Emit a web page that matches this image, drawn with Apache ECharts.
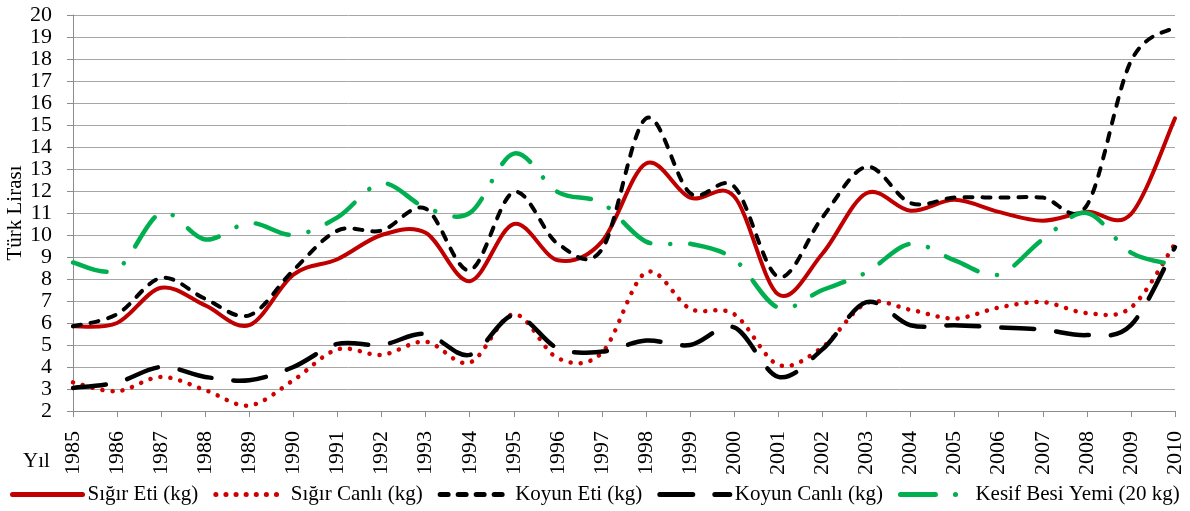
<!DOCTYPE html>
<html>
<head>
<meta charset="utf-8">
<script src="https://cdn.jsdelivr.net/npm/echarts@6/dist/echarts.min.js"></script>
<style>html,body{margin:0;padding:0;background:#fff}#c{width:1190px;height:511px}</style>
</head>
<body>
<div id="c"></div>
<script>
const years = ['1985','1986','1987','1988','1989','1990','1991','1992','1993','1994','1995','1996','1997','1998','1999','2000','2001','2002','2003','2004','2005','2006','2007','2008','2009','2010'];
const sigirEti =   [5.85,6.0,7.6,6.8,5.9,8.2,8.9,10.0,10.1,7.9,10.5,8.85,9.7,13.25,11.7,11.75,7.3,9.15,11.9,11.1,11.6,11.05,10.65,11.05,10.95,15.3];
const sigirCanli = [3.3,2.9,3.55,2.95,2.25,3.4,4.8,4.55,5.15,4.2,6.4,4.4,4.65,8.3,6.65,6.4,4.1,4.9,6.9,6.6,6.2,6.7,6.95,6.45,6.7,9.6];
const koyunEti =   [5.85,6.4,8.05,7.1,6.35,8.4,10.2,10.2,11.2,8.4,11.95,9.6,9.35,15.3,11.9,12.2,8.1,10.8,13.1,11.45,11.7,11.7,11.7,11.35,17.9,19.45];
const koyunCanli = [3.05,3.3,4.0,3.55,3.4,4.0,5.05,5.0,5.5,4.55,6.35,4.85,4.7,5.2,5.0,5.8,3.55,4.8,6.95,5.9,5.9,5.8,5.7,5.45,5.9,9.45];
const kesif =      [8.75,8.45,11.0,9.8,10.55,10.0,10.8,12.35,11.25,11.0,13.7,11.95,11.45,9.7,9.6,8.9,6.7,7.5,8.3,9.6,8.85,8.2,9.8,11.0,9.2,8.65];
const seriesNames = ['Sığır Eti (kg)','Sığır Canlı (kg)','Koyun Eti (kg)','Koyun Canlı (kg)','Kesif Besi Yemi (20 kg)'];

const font = 'Liberation Serif';
const T = 1/6;
const chart = echarts.init(document.getElementById('c'), null, {renderer:'canvas'});

const styles = [
  {name:seriesNames[0], data:sigirEti,   color:'#C00000', width:4,   dash:null},
  {name:seriesNames[1], data:sigirCanli, color:'#D00000', width:4.5, dash:[0.1, 10]},
  {name:seriesNames[2], data:koyunEti,   color:'#000000', width:4,   dash:[8, 10]},
  {name:seriesNames[3], data:koyunCanli, color:'#000000', width:4.5, dash:[33, 22]},
  {name:seriesNames[4], data:kesif,      color:'#00B050', width:4.5, dash:[35, 20, 0.1, 20]}
];

function makeRender(values, s) {
  return function (params, api) {
    if (params.dataIndex !== 0) return null;
    const p = values.map((v, i) => api.coord([i, v]));
    const n = p.length;
    let d = 'M' + p[0][0] + ',' + p[0][1];
    for (let i = 0; i < n - 1; i++) {
      const p0 = p[Math.max(i - 1, 0)], p1 = p[i], p2 = p[i + 1], p3 = p[Math.min(i + 2, n - 1)];
      const c1x = p1[0] + (p2[0] - p0[0]) * T, c1y = p1[1] + (p2[1] - p0[1]) * T;
      const c2x = p2[0] - (p3[0] - p1[0]) * T, c2y = p2[1] - (p3[1] - p1[1]) * T;
      d += ' C' + c1x + ',' + c1y + ' ' + c2x + ',' + c2y + ' ' + p2[0] + ',' + p2[1];
    }
    return {
      type:'path', shape:{pathData:d},
      style:{stroke:s.color, lineWidth:s.width, lineDash:s.dash, lineCap:'round', lineJoin:'round', fill:'none'}
    };
  };
}

const legendSeries = styles.map(s => ({
  name:s.name, type:'line', data:s.data, symbol:'none', showSymbol:false, silent:true,
  lineStyle:{color:s.color, width:s.width, type:s.dash || 'solid', cap:'round', opacity:0},
  itemStyle:{color:s.color}
}));
const drawSeries = styles.map(s => ({
  name:s.name, type:'custom', silent:true,
  data:s.data.map((v, i) => [i, v]),
  encode:{x:0, y:1},
  renderItem:makeRender(s.data, s),
  itemStyle:{color:s.color}
}));

chart.setOption({
  animation:false,
  grid:{left:73, right:15, top:15, bottom:100, containLabel:false, outerBoundsMode:'none'},
  legend:{
    left:10, top:484, padding:0, itemWidth:70, itemHeight:14, itemGap:15,
    textStyle:{fontFamily:font, fontSize:21, color:'#000'},
    itemStyle:{opacity:0},
    lineStyle:{opacity:1, width:5},
    data:seriesNames
  },
  graphic:[{type:'text', left:23, top:451, style:{text:'Yıl', font:'21px "Liberation Serif"', fill:'#000'}}],
  xAxis:{
    type:'category', data:years, boundaryGap:false,
    axisLine:{lineStyle:{color:'#8c8c8c', width:1}},
    axisTick:{show:true, alignWithLabel:true, length:6, lineStyle:{color:'#8c8c8c'}},
    axisLabel:{rotate:90, interval:0, fontFamily:font, fontSize:22, color:'#000', margin:20},
    splitLine:{show:false}
  },
  yAxis:{
    type:'value', min:2, max:20, interval:1,
    name:'Türk Lirası', nameLocation:'middle', nameRotate:90, nameGap:47, nameMoveOverlap:false,
    nameTextStyle:{fontFamily:font, fontSize:21, color:'#000'},
    axisLine:{show:true, lineStyle:{color:'#8c8c8c', width:1}},
    axisTick:{show:true, length:6, lineStyle:{color:'#8c8c8c'}},
    axisLabel:{fontFamily:font, fontSize:22, color:'#000', margin:21},
    splitLine:{show:true, lineStyle:{color:'#a6a6a6', width:1}}
  },
  series:legendSeries.concat(drawSeries)
});
</script>
</body>
</html>
